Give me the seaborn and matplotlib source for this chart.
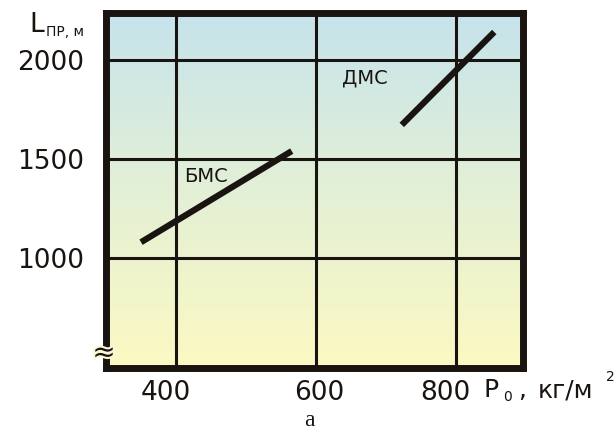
import matplotlib
matplotlib.use("Agg")
import matplotlib.pyplot as plt
import matplotlib.patheffects as pe
import matplotlib.transforms as mtransforms
import numpy as np
import pandas as pd
import seaborn as sns
from matplotlib.colors import LinearSegmentedColormap

# values
series = ["БМС", "БМС", "ДМС", "ДМС"]
p0 = [350, 565, 722, 854]          # P0, кг/м2
l_pr = [1080, 1540, 1672, 2141]    # Lпр, м
x_ticks = [400, 600, 800]
y_ticks = [1000, 1500, 2000]
x_lim = (300, 895)
y_lim = (445, 2237)

INK = "#1a1411"

df = pd.DataFrame({"series": series, "p0": p0, "l_pr": l_pr})

sns.set_theme(style="white")
plt.rcParams["font.family"] = ["DejaVu Sans"]

W, H = 615, 430
fig = plt.figure(figsize=(W / 100, H / 100), dpi=100)
ax = fig.add_axes([106 / W, 1 - 368 / H, 417 / W, 355 / H])

# blue-to-yellow vertical gradient background
cmap = LinearSegmentedColormap.from_list("bg", ["#fcf9c2", "#e3f0d6", "#c6e3ec"])
grad = np.linspace(0, 1, 256).reshape(-1, 1)
ax.imshow(grad, cmap=cmap, aspect="auto", origin="lower",
          extent=[x_lim[0], x_lim[1], y_lim[0], y_lim[1]], zorder=0)

for v in x_ticks:
    ax.axvline(v, color=INK, lw=2.2, zorder=1)
for v in y_ticks:
    ax.axhline(v, color=INK, lw=2.2, zorder=1)

sns.lineplot(data=df, x="p0", y="l_pr", units="series", estimator=None,
             color=INK, lw=4.5, solid_capstyle="butt", sort=False, ax=ax, zorder=3)

ax.set_xlim(*x_lim)
ax.set_ylim(*y_lim)
ax.set_xlabel("")
ax.set_ylabel("")
ax.set_xticks(x_ticks)
ax.set_xticklabels([str(v) for v in x_ticks])
ax.set_yticks(y_ticks)
ax.set_yticklabels([str(v) for v in y_ticks])
ax.tick_params(axis="both", labelsize=19, colors=INK, direction="out",
               length=5, width=1.5, pad=11)
ax.tick_params(axis="x", pad=4)
# the original shifts the x labels a little off their ticks
for lab, dx in zip(ax.get_xticklabels(), [-10, 3, -11]):
    lab.set_transform(lab.get_transform() +
                      mtransforms.ScaledTranslation(dx / 100, 0, fig.dpi_scale_trans))
for s in ax.spines.values():
    s.set_color(INK)
    s.set_linewidth(5)
    s.set_zorder(5)

ax.text(412, 1410, "БМС", fontsize=14, color=INK, ha="left", va="center", zorder=4)
ax.text(637, 1910, "ДМС", fontsize=14, color=INK, ha="left", va="center", zorder=4)


def put(x_px, y_px, txt, size):
    """Text at pixel position (y from top), baseline aligned."""
    fig.text(x_px / W, 1 - y_px / H, txt, fontsize=size, color=INK,
             ha="left", va="baseline")


put(29, 32, "L", 19)
put(46, 36, "ПР, м", 10)
put(484, 397, "P", 18)
put(503, 401, "0", 10)
put(518, 397, ",", 18)
put(538, 397, "кг/м", 18)
put(606, 381, "2", 10)

fig.text(104 / W, 1 - 353 / H, "≈", fontsize=20, color=INK, ha="center", va="center",
         zorder=6, path_effects=[pe.withStroke(linewidth=3, foreground="#fbf8d8")])
fig.text(309 / W, 1 - 420 / H, "а", fontsize=17, color=INK, ha="center", va="center",
         family=["Liberation Serif", "DejaVu Serif"])

fig.savefig("out.png", dpi=100)
